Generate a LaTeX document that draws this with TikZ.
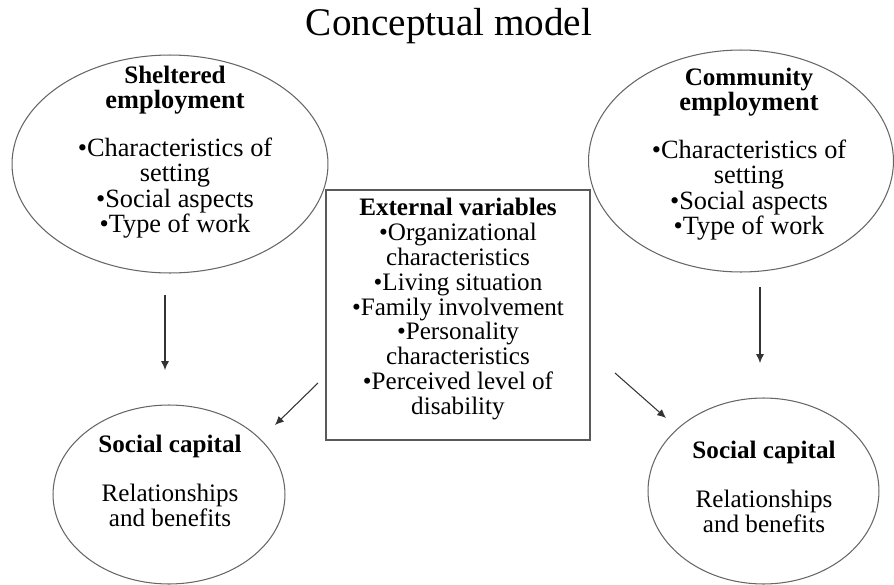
\documentclass[tikz,border=0pt]{standalone}
\usepackage{fontspec}
\setmainfont{Liberation Serif}
\usetikzlibrary{shapes.geometric,arrows.meta}

\begin{document}
\begin{tikzpicture}[x=0.02cm,y=-0.02cm,
		oval/.style={draw=black!60,line width=0.6pt,ellipse,inner sep=0pt},
		txt/.style={align=center,inner sep=0pt,font=\fontsize{14.3}{14.2}\selectfont},
		bigtxt/.style={txt,font=\fontsize{15}{14.4}\selectfont},
		arr/.style={draw=black!80,line width=0.6pt,-{Latex[length=5pt,width=4.5pt]}}]
			\useasboundingbox (0,0) rectangle (894,585);
			\node[anchor=base,inner sep=0pt,font=\fontsize{22.3}{24}\selectfont] (title) at (449,35) {Conceptual model};
			\node[oval,minimum width=6.32cm,minimum height=4.36cm] (sheltered) at (170,164) {};
			\node[oval,minimum width=6.1cm,minimum height=4.44cm] (community) at (741,161) {};
			\node[oval,minimum width=4.64cm,minimum height=3.58cm] (capL) at (169,494.5) {};
			\node[oval,minimum width=4.62cm,minimum height=3.72cm] (capR) at (763.5,491) {};
			\node[draw=black!65,line width=1pt,minimum width=5.28cm,minimum height=5cm,inner sep=0pt] (ext) at (458,315) {};
			\node[bigtxt] (shelteredtxt) at (175,152) {\fontsize{14.3}{14.4}\selectfont\textbf{Sheltered}\\\textbf{employment}\\[13pt]•Characteristics of\\setting\\•Social aspects\\•Type of work};
			\node[bigtxt] (communitytxt) at (749,154) {\fontsize{14.3}{14.4}\selectfont\textbf{Community}\\\textbf{employment}\\[13pt]•Characteristics of\\setting\\•Social aspects\\•Type of work};
			\node[txt] (exttxt) at (458,309) {\textbf{External variables}\\•Organizational\\characteristics\\•Living situation\\•Family involvement\\•Personality\\characteristics\\•Perceived level of\\disability};
			\node[txt] (capLtxt) at (170,481) {\textbf{Social capital}\\[14pt]Relationships\\and benefits};
			\node[txt] (capRtxt) at (764,487) {\textbf{Social capital}\\[14pt]Relationships\\and benefits};
			\coordinate (Ls) at (165,295);
			\coordinate (Le) at (165,370);
			\coordinate (Rs) at (760,287);
			\coordinate (Re) at (760,363);
			\coordinate (Ds) at (318,383);
			\coordinate (De) at (275,425);
			\coordinate (Es) at (615,373);
			\coordinate (Ee) at (666,418);
			\draw[arr] (Ls) -- (Le);
			\draw[arr] (Rs) -- (Re);
			\draw[arr] (Ds) -- (De);
			\draw[arr] (Es) -- (Ee);
		\end{tikzpicture}
\end{document}
